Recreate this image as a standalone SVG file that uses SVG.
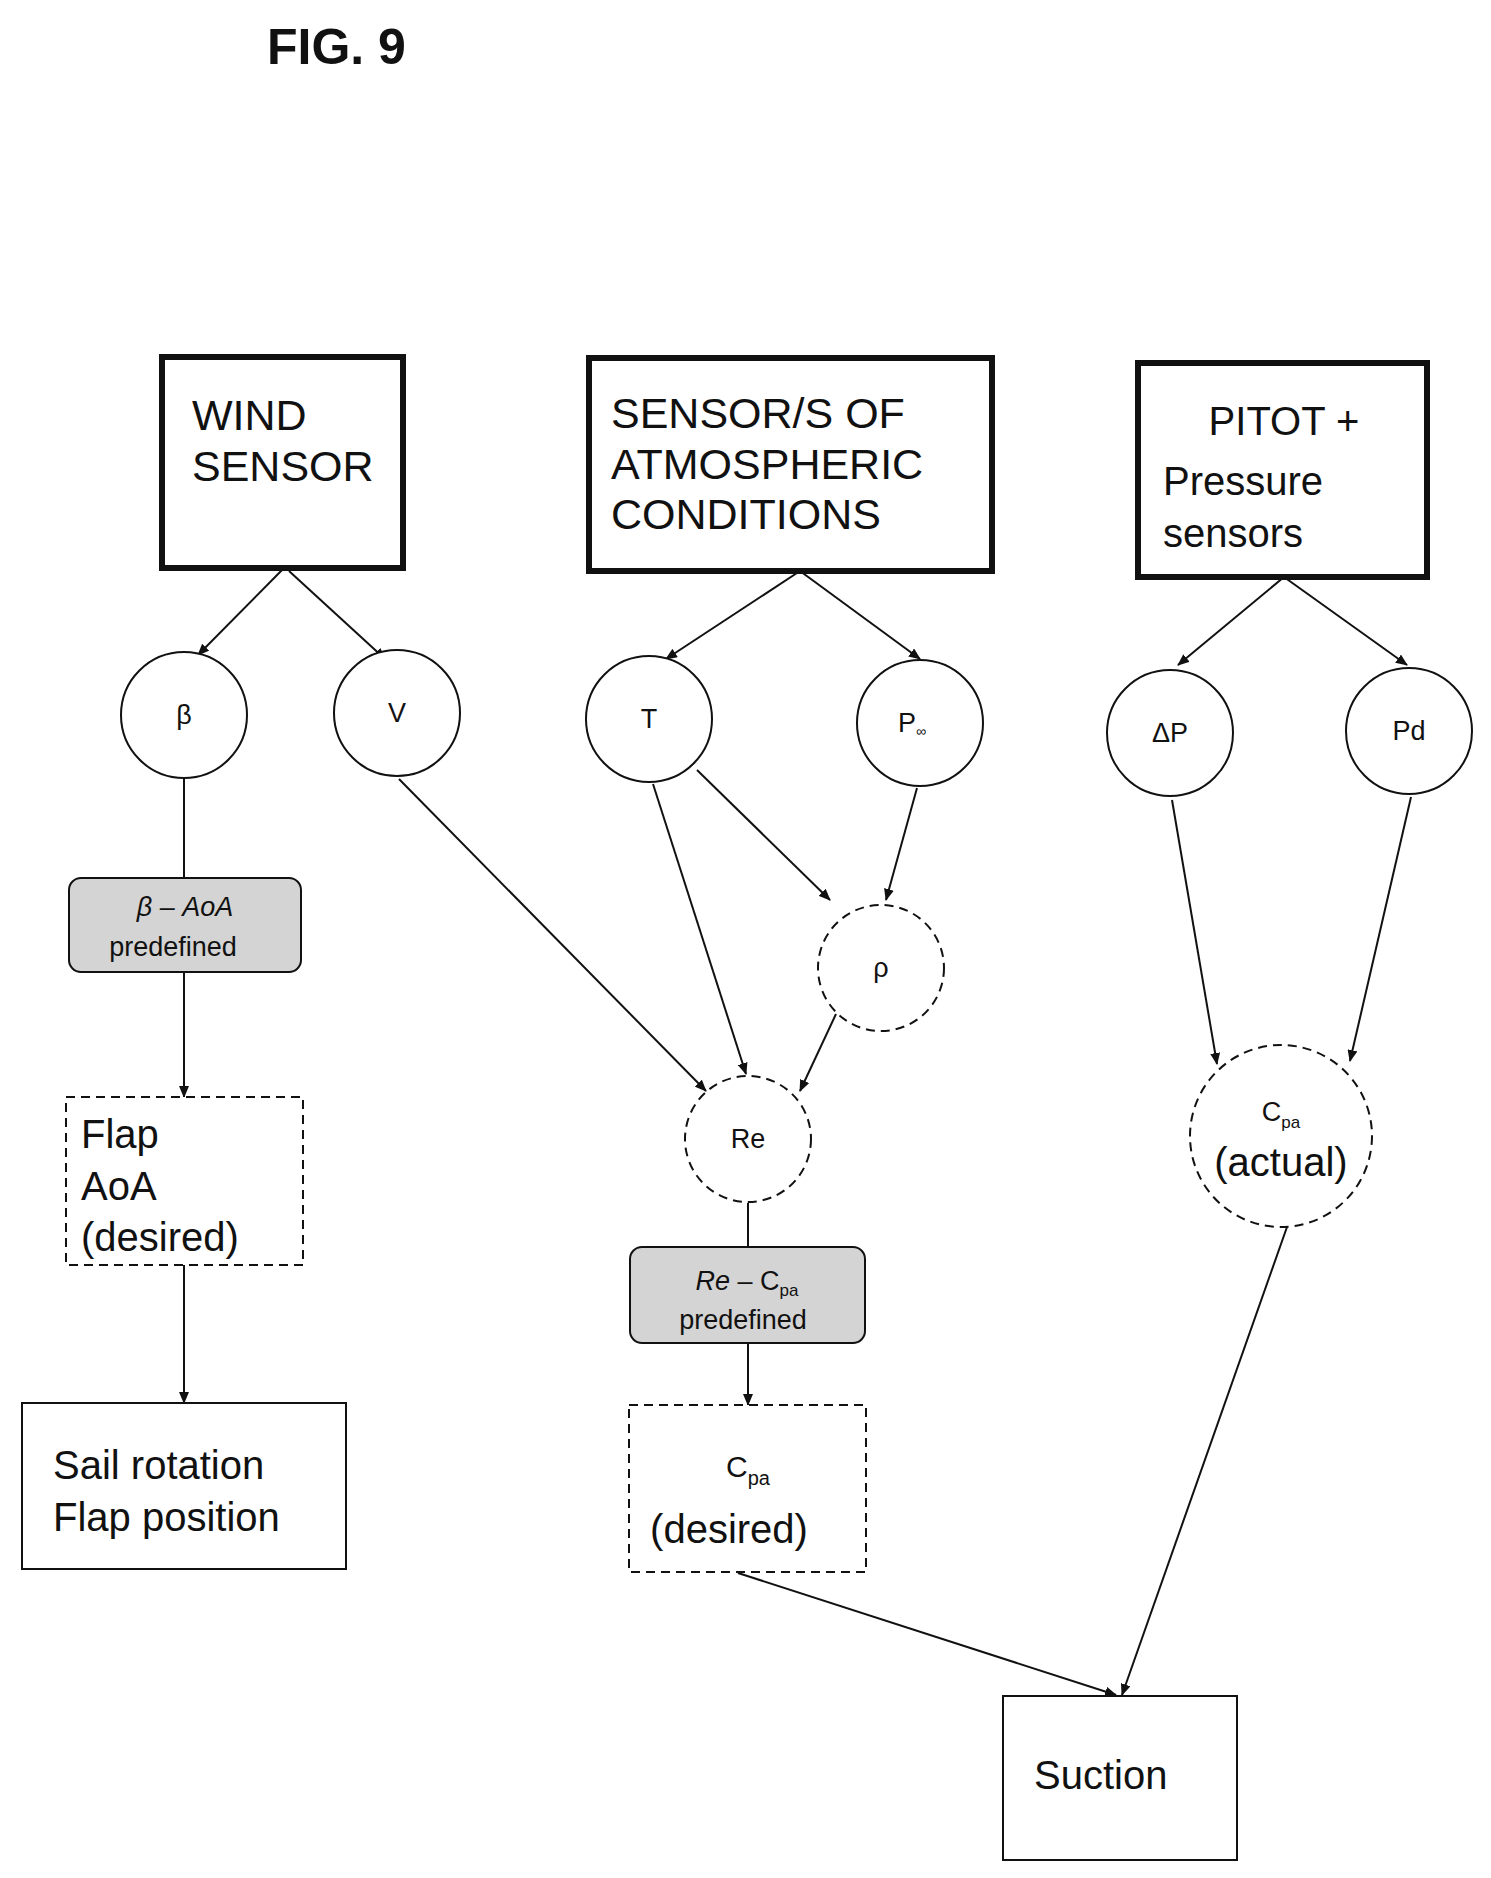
<svg xmlns="http://www.w3.org/2000/svg" width="1491" height="1878" viewBox="0 0 1491 1878">
<style>
text{font-family:"Liberation Sans",Arial,sans-serif;fill:#111}
.thick{fill:#fff;stroke:#111;stroke-width:6}
.plain{fill:#fff;stroke:#111;stroke-width:2}
.dash{fill:#fff;stroke:#111;stroke-width:2;stroke-dasharray:9 6}
.gray{fill:#d4d4d4;stroke:#111;stroke-width:2}
.big{font-size:43px}
.mid{font-size:40px}
.sm{font-size:27px}
.e{stroke:#111;stroke-width:2;fill:none;marker-end:url(#a)}
.n{stroke:#111;stroke-width:2;fill:none}
</style>
<defs><marker id="a" markerWidth="12" markerHeight="10" refX="11" refY="5" orient="auto" markerUnits="userSpaceOnUse"><path d="M0,0 L12,5 L0,10 Z" fill="#111"/></marker></defs>
<rect width="1491" height="1878" fill="#fff"/>
<text x="267" y="64" style="font-size:50px;font-weight:bold">FIG. 9</text>
<g id="connectors">
<line class="e" x1="284" y1="568" x2="198" y2="655"/>
<line class="e" x1="289" y1="571" x2="385" y2="659"/>
<line class="e" x1="800" y1="571" x2="666" y2="659"/>
<line class="e" x1="800" y1="571" x2="920" y2="659"/>
<line class="e" x1="1284" y1="577" x2="1178" y2="665"/>
<line class="e" x1="1284" y1="577" x2="1407" y2="665"/>
<line class="n" x1="184" y1="778" x2="184" y2="878"/>
<line class="e" x1="184" y1="972" x2="184" y2="1097"/>
<line class="e" x1="184" y1="1265" x2="184" y2="1403"/>
<line class="e" x1="399" y1="779" x2="706" y2="1091"/>
<line class="e" x1="653" y1="784" x2="746" y2="1074"/>
<line class="e" x1="697" y1="770" x2="830" y2="900"/>
<line class="e" x1="917" y1="788" x2="886" y2="900"/>
<line class="e" x1="836" y1="1014" x2="800" y2="1091"/>
<line class="n" x1="748" y1="1203" x2="748" y2="1247"/>
<line class="e" x1="748" y1="1343" x2="748" y2="1405"/>
<line class="e" x1="1172" y1="800" x2="1217" y2="1064"/>
<line class="e" x1="1411" y1="797" x2="1350" y2="1061"/>
<line class="e" x1="738" y1="1573" x2="1116" y2="1695"/>
<line class="e" x1="1287" y1="1227" x2="1122" y2="1695"/>
</g>
<g id="wind"><rect class="thick" x="162" y="357" width="241" height="211"/><text class="big" x="192" y="430">WIND</text><text class="big" x="192" y="481">SENSOR</text></g>
<g id="atmos"><rect class="thick" x="589" y="358" width="403" height="213"/><text class="big" x="611" y="428">SENSOR/S OF</text><text class="big" x="611" y="479">ATMOSPHERIC</text><text class="big" x="611" y="529">CONDITIONS</text></g>
<g id="pitot"><rect class="thick" x="1138" y="363" width="289" height="214"/><text class="mid" x="1284" y="435" text-anchor="middle">PITOT +</text><text class="mid" x="1163" y="495">Pressure</text><text class="mid" x="1163" y="547">sensors</text></g>
<g id="beta"><circle class="plain" cx="184" cy="715" r="63"/><text class="sm" x="184" y="724" text-anchor="middle">β</text></g>
<g id="v"><circle class="plain" cx="397" cy="713" r="63"/><text class="sm" x="397" y="722" text-anchor="middle">V</text></g>
<g id="t"><circle class="plain" cx="649" cy="719" r="63"/><text class="sm" x="649" y="728" text-anchor="middle">T</text></g>
<g id="pinf"><circle class="plain" cx="920" cy="723" r="63"/><text class="sm" x="912" y="732" text-anchor="middle">P<tspan font-size="14" dy="4">∞</tspan></text></g>
<g id="dp"><circle class="plain" cx="1170" cy="733" r="63"/><text class="sm" x="1170" y="742" text-anchor="middle">ΔP</text></g>
<g id="pd"><circle class="plain" cx="1409" cy="731" r="63"/><text class="sm" x="1409" y="740" text-anchor="middle">Pd</text></g>
<g id="rho"><circle class="dash" cx="881" cy="968" r="63"/><text class="sm" x="881" y="977" text-anchor="middle">ρ</text></g>
<g id="re"><circle class="dash" cx="748" cy="1139" r="63"/><text class="sm" x="748" y="1148" text-anchor="middle">Re</text></g>
<g id="cpaact"><circle class="dash" cx="1281" cy="1136" r="91"/><text class="sm" x="1281" y="1121" text-anchor="middle">C<tspan font-size="17" dy="7">pa</tspan></text><text class="mid" x="1281" y="1176" text-anchor="middle">(actual)</text></g>
<g id="betaaoa"><rect class="gray" x="69" y="878" width="232" height="94" rx="12"/><text class="sm" x="185" y="916" text-anchor="middle" font-style="italic">β – AoA</text><text class="sm" x="173" y="956" text-anchor="middle">predefined</text></g>
<g id="flap"><rect class="dash" x="66" y="1097" width="237" height="168"/><text class="mid" x="81" y="1148">Flap</text><text class="mid" x="81" y="1200">AoA</text><text class="mid" x="81" y="1251">(desired)</text></g>
<g id="sail"><rect class="plain" x="22" y="1403" width="324" height="166"/><text class="mid" x="53" y="1479">Sail rotation</text><text class="mid" x="53" y="1531">Flap position</text></g>
<g id="recpa"><rect class="gray" x="630" y="1247" width="235" height="96" rx="12"/><text class="sm" x="747" y="1290" text-anchor="middle"><tspan font-style="italic">Re</tspan> – C<tspan font-size="17" dy="6">pa</tspan></text><text class="sm" x="743" y="1329" text-anchor="middle">predefined</text></g>
<g id="cpades"><rect class="dash" x="629" y="1405" width="237" height="167"/><text x="748" y="1477" text-anchor="middle" font-size="30">C<tspan font-size="20" dy="8">pa</tspan></text><text class="mid" x="729" y="1543" text-anchor="middle">(desired)</text></g>
<g id="suction"><rect class="plain" x="1003" y="1696" width="234" height="164"/><text class="mid" x="1034" y="1789">Suction</text></g>
</svg>
